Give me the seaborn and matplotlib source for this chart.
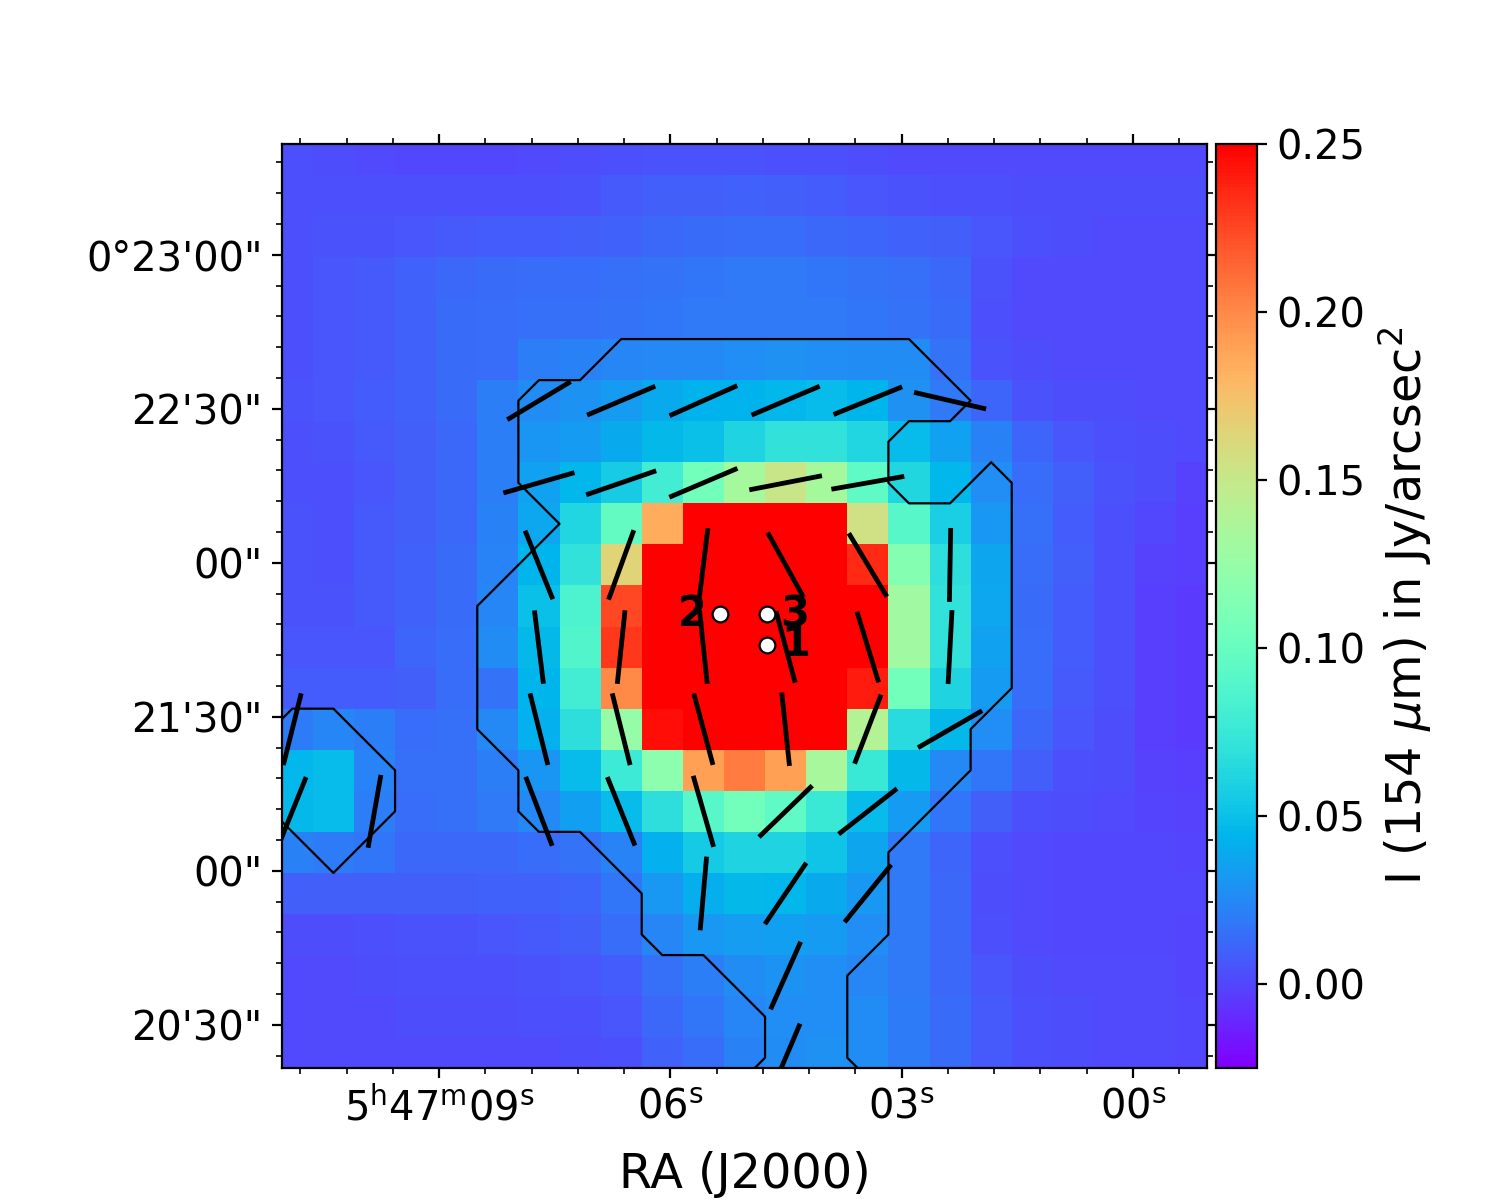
import numpy as np
import matplotlib
matplotlib.use('Agg')
import matplotlib.pyplot as plt
import seaborn as sns

# 154 um intensity map, Jy/arcsec^2, top row first (saturated cells kept at 0.30)
intensity = [
    [.003, .002, .001, .000, .000, .000, .001, .002, .004, .005, .005, .005, .004, .003, .002, .001, .001, .001, .001, .001, .001, .001, .001],
    [.004, .004, .004, .004, .004, .004, .004, .005, .007, .009, .009, .010, .009, .008, .006, .005, .004, .003, .002, .002, .002, .002, .002],
    [.004, .005, .005, .006, .007, .008, .008, .009, .010, .012, .013, .014, .014, .012, .011, .010, .009, .006, .004, .002, .001, .001, .001],
    [.003, .006, .007, .010, .012, .013, .014, .014, .015, .016, .017, .018, .018, .017, .016, .015, .012, .005, .001, .001, .001, .001, .001],
    [.003, .006, .007, .010, .013, .014, .015, .015, .016, .017, .018, .019, .019, .019, .017, .016, .013, .004, .001, .001, .001, .001, .001],
    [.003, .006, .007, .010, .013, .014, .021, .022, .024, .025, .025, .027, .028, .027, .026, .026, .016, .005, .002, .001, .001, .001, .001],
    [.005, .006, .008, .010, .013, .021, .026, .029, .033, .039, .043, .043, .045, .047, .044, .028, .018, .011, .005, .002, .002, .001, .001],
    [.004, .005, .007, .009, .012, .021, .030, .033, .039, .046, .050, .060, .070, .070, .061, .047, .036, .022, .011, .006, .003, .002, .001],
    [.004, .004, .006, .009, .012, .021, .036, .045, .056, .080, .105, .133, .152, .133, .095, .063, .045, .027, .014, .009, .005, .002, -.002],
    [.005, .004, .007, .009, .012, .022, .038, .062, .098, .185, .300, .300, .300, .300, .155, .090, .058, .031, .015, .008, .004, .000, -.003],
    [.005, .004, .007, .010, .013, .023, .044, .070, .165, .300, .300, .300, .300, .300, .235, .115, .068, .037, .014, .009, .003, -.002, -.003],
    [.005, .005, .007, .010, .013, .024, .050, .085, .225, .300, .300, .300, .300, .300, .300, .130, .070, .038, .013, .008, .003, -.003, -.004],
    [.006, .006, .006, .011, .014, .026, .046, .088, .230, .300, .300, .300, .300, .300, .300, .130, .070, .036, .014, .008, .003, -.003, -.004],
    [.008, .008, .008, .009, .014, .016, .044, .080, .200, .300, .300, .300, .300, .300, .240, .105, .060, .032, .014, .007, .003, -.003, -.004],
    [.020, .024, .021, .014, .015, .025, .042, .068, .125, .245, .260, .300, .300, .300, .140, .066, .046, .027, .012, .006, .002, -.003, -.004],
    [.045, .047, .023, .015, .015, .021, .030, .048, .077, .120, .190, .205, .190, .135, .075, .046, .025, .017, .009, .004, .002, -.002, -.003],
    [.046, .047, .021, .014, .015, .019, .025, .035, .048, .068, .090, .105, .095, .075, .048, .032, .017, .009, .004, .002, .001, -.001, -.002],
    [.022, .020, .017, .012, .012, .012, .014, .016, .023, .042, .055, .060, .060, .052, .037, .019, .011, .003, .001, .000, .000, .000, -.001],
    [.009, .009, .009, .009, .009, .010, .010, .011, .017, .031, .041, .046, .045, .039, .031, .019, .012, .002, .001, .000, .000, .000, .000],
    [.002, .002, .003, .005, .005, .006, .007, .009, .014, .024, .031, .034, .035, .032, .027, .019, .012, .004, .001, .000, .000, .000, -.001],
    [.001, .001, .002, .003, .003, .004, .005, .006, .008, .015, .021, .026, .029, .027, .024, .019, .012, .006, .002, .001, .001, .001, -.001],
    [.001, .001, .001, .002, .002, .002, .003, .004, .006, .012, .017, .024, .027, .027, .026, .020, .013, .007, .003, .002, .001, .001, .000],
    [.001, .001, .001, .001, .001, .001, .001, .002, .004, .010, .014, .022, .026, .028, .026, .020, .013, .007, .003, .002, .001, .001, .000],
]

# significance mask as (row, first col, last col), contoured at 0.5
mask_spans = [
    (5, 8, 15), (6, 6, 16), (7, 6, 14), (8, 6, 14), (8, 17, 17), (9, 7, 17),
    (10, 6, 17), (11, 5, 17), (12, 5, 17), (13, 5, 17), (14, 5, 16), (15, 6, 16),
    (16, 6, 15), (17, 8, 14), (18, 9, 14), (19, 9, 14), (20, 11, 13), (21, 12, 13),
    (22, 12, 13), (23, 11, 14),
    (14, 0, 1), (15, 0, 2), (16, 0, 2), (17, 1, 1),
]

# polarization segments: map cell and position angle in degrees
vec_col = [6, 8, 10, 12, 14, 16,
           6, 8, 10, 12, 14,
           6, 8, 10, 12, 14, 16,
           6, 8, 10, 12, 14, 16,
           0, 6, 8, 10, 12, 14, 16,
           0, 2, 6, 8, 10, 12, 14,
           10, 12, 14,
           12, 12]
vec_row = [6, 6, 6, 6, 6, 6,
           8, 8, 8, 8, 8,
           10, 10, 10, 10, 10, 10,
           12, 12, 12, 12, 12, 12,
           14, 14, 14, 14, 14, 14, 14,
           16, 16, 16, 16, 16, 16, 16,
           18, 18, 18,
           20, 22]
vec_angle = [59, 67, 66, 67, 68, 103,
             74, 71, 67, 79, 80,
             -22, 20, 7, -29, -31, 1,
             -7, 6, -6, -15, -17, 3,
             14, -14, -14, -15, -6, 21, 60,
             22, 10, -21, -22, -16, 46, 52,
             5, 34, 39,
             24, 23]
vec_length = 1.8

# RA seconds past 5h47m and Dec arcsec past 0d20m
ra_major = [9, 6, 3, 0]
ra_labels = [r'5$^{\mathrm{h}}$47$^{\mathrm{m}}$09$^{\mathrm{s}}$', r'06$^{\mathrm{s}}$', r'03$^{\mathrm{s}}$', r'00$^{\mathrm{s}}$']
dec_major = [30, 60, 90, 120, 150, 180]
dec_labels = ['20\'30"', '00"', '21\'30"', '00"', '22\'30"', '0°23\'00"']

source_ra = [4.74, 5.35, 4.74]
source_dec = [104.1, 110, 110]
source_names = ['1', '2', '3']
source_dx = [0.69, -0.68, 0.66]

cbar_ticks = [0.00, 0.05, 0.10, 0.15, 0.20, 0.25]


def ra_to_x(sec):
    return 4.07 + (9 - np.asarray(sec, dtype=float)) / 0.5333


def dec_to_y(asec):
    return 2.95 + (180 - np.asarray(asec, dtype=float)) / 8.0


fig = plt.figure(figsize=(7.5, 6), dpi=200)
ax = fig.add_axes([282 / 1500, 132 / 1200, 925 / 1500, 924 / 1200])
cax = fig.add_axes([1216 / 1500, 132 / 1200, 40.5 / 1500, 924 / 1200])

sns.heatmap(np.array(intensity), ax=ax, cbar_ax=cax, cmap='rainbow', vmin=-0.025, vmax=0.25,
            xticklabels=False, yticklabels=False)

# mask grid has one extra column on the left and one extra row at the bottom
mask = np.zeros((24, 24))
for row, first, last in mask_spans:
    mask[row, first + 1:last + 2] = 1
ax.contour(np.arange(-1, 23) + 0.5, np.arange(24) + 0.5, mask, levels=[0.5], colors='k', linewidths=0.8)

theta = np.radians(vec_angle)
ax.quiver(np.array(vec_col) + 0.5, np.array(vec_row) + 0.5,
          vec_length * np.sin(theta), -vec_length * np.cos(theta),
          angles='xy', scale_units='xy', scale=1, pivot='mid', units='inches', width=0.024,
          headwidth=0, headlength=0, headaxislength=0, color='k', zorder=4)

ax.scatter(ra_to_x(source_ra), dec_to_y(source_dec), s=32, c='white', edgecolors='k', linewidths=0.8, zorder=5)
for ra, dec, name, dx in zip(source_ra, source_dec, source_names, source_dx):
    ax.text(ra_to_x(ra) + dx, dec_to_y(dec), name, fontsize=15, fontweight='bold',
            ha='center', va='center', zorder=5)

ax.set_xlim(0.25, 22.75)
ax.set_ylim(22.75, 0.25)
ax.set_xticks(ra_to_x(ra_major))
ax.set_xticklabels(ra_labels, fontsize=14.4, rotation=0)
ax.set_xticks(ra_to_x(np.arange(10.8, -0.7, -0.6)), minor=True)
ax.set_yticks(dec_to_y(dec_major))
ax.set_yticklabels(dec_labels, fontsize=14.4, rotation=0)
ax.set_yticks(dec_to_y(np.arange(24, 199, 6)), minor=True)
ax.tick_params(which='both', direction='out', top=True, right=True, bottom=True, left=True)
for side in ax.spines.values():
    side.set_visible(True)
    side.set_linewidth(0.8)
ax.set_xlabel('RA (J2000)', fontsize=17.2, labelpad=8)

cbar = ax.collections[0].colorbar
cbar.outline.set_linewidth(0.8)
cbar.set_ticks(cbar_ticks)
cbar.set_ticklabels(['%.2f' % t for t in cbar_ticks], fontsize=14.4)
cbar.ax.tick_params(which='minor', length=0)
cbar.set_label(r'I (154 $\mu$m) in Jy/arcsec$^{2}$', fontsize=17.2)

fig.savefig('out.png', dpi=200)
